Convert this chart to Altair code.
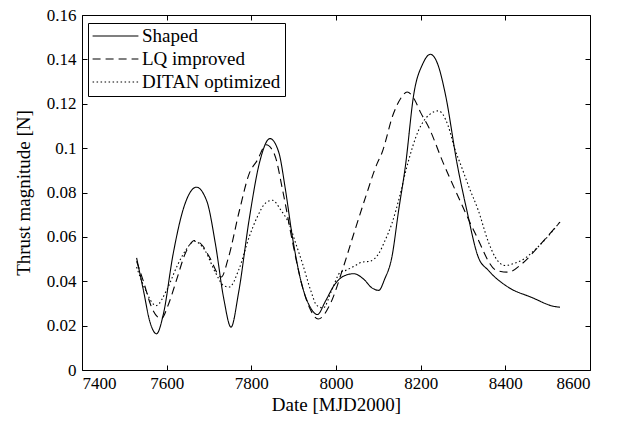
import altair as alt
import pandas as pd

FONT = "Liberation Serif"

series_names = ["Shaped", "LQ improved", "DITAN optimized"]

shaped_x = [7529, 7545, 7560, 7576, 7592, 7615, 7640, 7670, 7695, 7715, 7735, 7752, 7770, 7795,
            7820, 7844, 7865, 7880, 7897, 7920, 7940, 7956, 7975, 7995, 8020, 8042, 8065, 8085,
            8101, 8115, 8132, 8148, 8164, 8184, 8205, 8223, 8240, 8258, 8287, 8309, 8336, 8360,
            8407, 8461, 8517, 8529]
shaped_y = [0.0505, 0.036, 0.022, 0.0163, 0.025, 0.052, 0.073, 0.0824, 0.076, 0.057, 0.032, 0.0193,
            0.035, 0.068, 0.094, 0.1043, 0.098, 0.082, 0.060, 0.038, 0.028, 0.025, 0.031, 0.038,
            0.0425, 0.0434, 0.041, 0.037, 0.0359, 0.041, 0.0509, 0.072, 0.092, 0.1246, 0.138,
            0.1423, 0.138, 0.1246, 0.092, 0.072, 0.0509, 0.0449, 0.0373, 0.0328, 0.0286, 0.0283]

lq_x = [7529, 7545, 7565, 7587, 7605, 7623, 7645, 7666, 7685, 7701, 7729, 7745, 7772, 7795,
        7814, 7835, 7855, 7875, 7897, 7920, 7940, 7958, 7987, 8015, 8042, 8070, 8097, 8108,
        8136, 8155, 8168, 8185, 8200, 8219, 8254, 8289, 8329, 8379, 8407, 8440, 8480, 8529]
lq_y = [0.049, 0.040, 0.028, 0.0231, 0.030, 0.0404, 0.053, 0.0584, 0.056, 0.0509, 0.0419, 0.050,
        0.072, 0.0885, 0.0945, 0.1015, 0.097, 0.080, 0.058, 0.038, 0.027, 0.023, 0.030, 0.045,
        0.0614, 0.078, 0.093, 0.0976, 0.1157, 0.123, 0.1253, 0.122, 0.116, 0.1094, 0.093,
        0.078, 0.0615, 0.0449, 0.0441, 0.048, 0.056, 0.0667]

ditan_x = [7529, 7550, 7575, 7600, 7625, 7645, 7666, 7690, 7715, 7735, 7748, 7770, 7795, 7814,
           7835, 7850, 7870, 7889, 7905, 7921, 7940, 7955, 7970, 7990, 8010, 8023, 8045, 8061,
           8080, 8101, 8115, 8132, 8150, 8167, 8195, 8220, 8242, 8265, 8280, 8297, 8315, 8336,
           8360, 8376, 8399, 8420, 8438, 8480, 8529]
ditan_y = [0.0464, 0.036, 0.029, 0.036, 0.047, 0.054, 0.058, 0.054, 0.044, 0.038, 0.0374, 0.045,
           0.060, 0.069, 0.0755, 0.0765, 0.072, 0.066, 0.057, 0.0479, 0.036, 0.029, 0.028, 0.036,
           0.044, 0.0449, 0.047, 0.0486, 0.049, 0.0525, 0.058, 0.066, 0.078, 0.0913, 0.108,
           0.115, 0.1168, 0.110, 0.100, 0.0913, 0.082, 0.072, 0.0577, 0.0509, 0.0471, 0.048,
           0.0494, 0.056, 0.0667]

x_ticks = [7400, 7600, 7800, 8000, 8200, 8400, 8600]
y_ticks = [0, 0.02, 0.04, 0.06, 0.08, 0.1, 0.12, 0.14, 0.16]

rows = []
for name, xs, ys in zip(series_names, [shaped_x, lq_x, ditan_x], [shaped_y, lq_y, ditan_y]):
    for a, b in zip(xs, ys):
        rows.append({"date": a, "thrust": b, "series": name})
df = pd.DataFrame(rows)

xscale = alt.Scale(domain=[7400, 8600], nice=False, zero=False)
yscale = alt.Scale(domain=[0, 0.16], nice=False)

lines = alt.Chart(df).mark_line(color="black", strokeWidth=1.1, interpolate="monotone").encode(
    x=alt.X("date:Q", scale=xscale,
            axis=alt.Axis(title="Date [MJD2000]", values=x_ticks, format="d", offset=-5,
                          tickSize=5, domain=False, grid=False, labelPadding=5, titlePadding=4,
                          titleColor="black", labelColor="black")),
    y=alt.Y("thrust:Q", scale=yscale,
            axis=alt.Axis(title="Thrust magnitude [N]", values=y_ticks, format="~g", offset=-5,
                          tickSize=5, domain=False, grid=False, labelPadding=6, titlePadding=13,
                          titleColor="black", labelColor="black")),
    strokeDash=alt.StrokeDash("series:N",
                              scale=alt.Scale(domain=series_names, range=[[1, 0], [8, 5], [1.5, 2.5]]),
                              legend=alt.Legend(title=None, orient="none", legendX=6, legendY=8,
                                                symbolType="stroke", symbolSize=2100,
                                                symbolStrokeColor="black", symbolStrokeWidth=1.1,
                                                labelFont=FONT, labelFontSize=19, labelOffset=3,
                                                labelColor="black", clipHeight=18,
                                                fillColor="white", strokeColor="black",
                                                padding=4, rowPadding=4)),
)

frame_axes = alt.Chart(df).mark_line(opacity=0).encode(
    x=alt.X("date:Q", scale=xscale,
            axis=alt.Axis(orient="top", title=None, labels=False, values=x_ticks, offset=-5,
                          tickSize=5, domain=False, grid=False)),
    y=alt.Y("thrust:Q", scale=yscale,
            axis=alt.Axis(orient="right", title=None, labels=False, values=y_ticks, offset=-5,
                          tickSize=5, domain=False, grid=False)),
)

chart = alt.layer(lines, frame_axes).resolve_axis(x="independent", y="independent").properties(
    width=508, height=355,
    background="white",
    autosize=alt.AutoSizeParams(type="none"),
    padding={"left": 82, "top": 15, "right": 28, "bottom": 56},
).configure_view(stroke="black", strokeWidth=1).configure_axis(
    labelFont=FONT, labelFontSize=17, labelColor="black", titleFont=FONT, titleFontSize=19,
    titleFontWeight="normal", titleColor="black", tickColor="black", tickWidth=1,
)

chart.save("out.html", embed_options={"renderer": "svg", "actions": False})
